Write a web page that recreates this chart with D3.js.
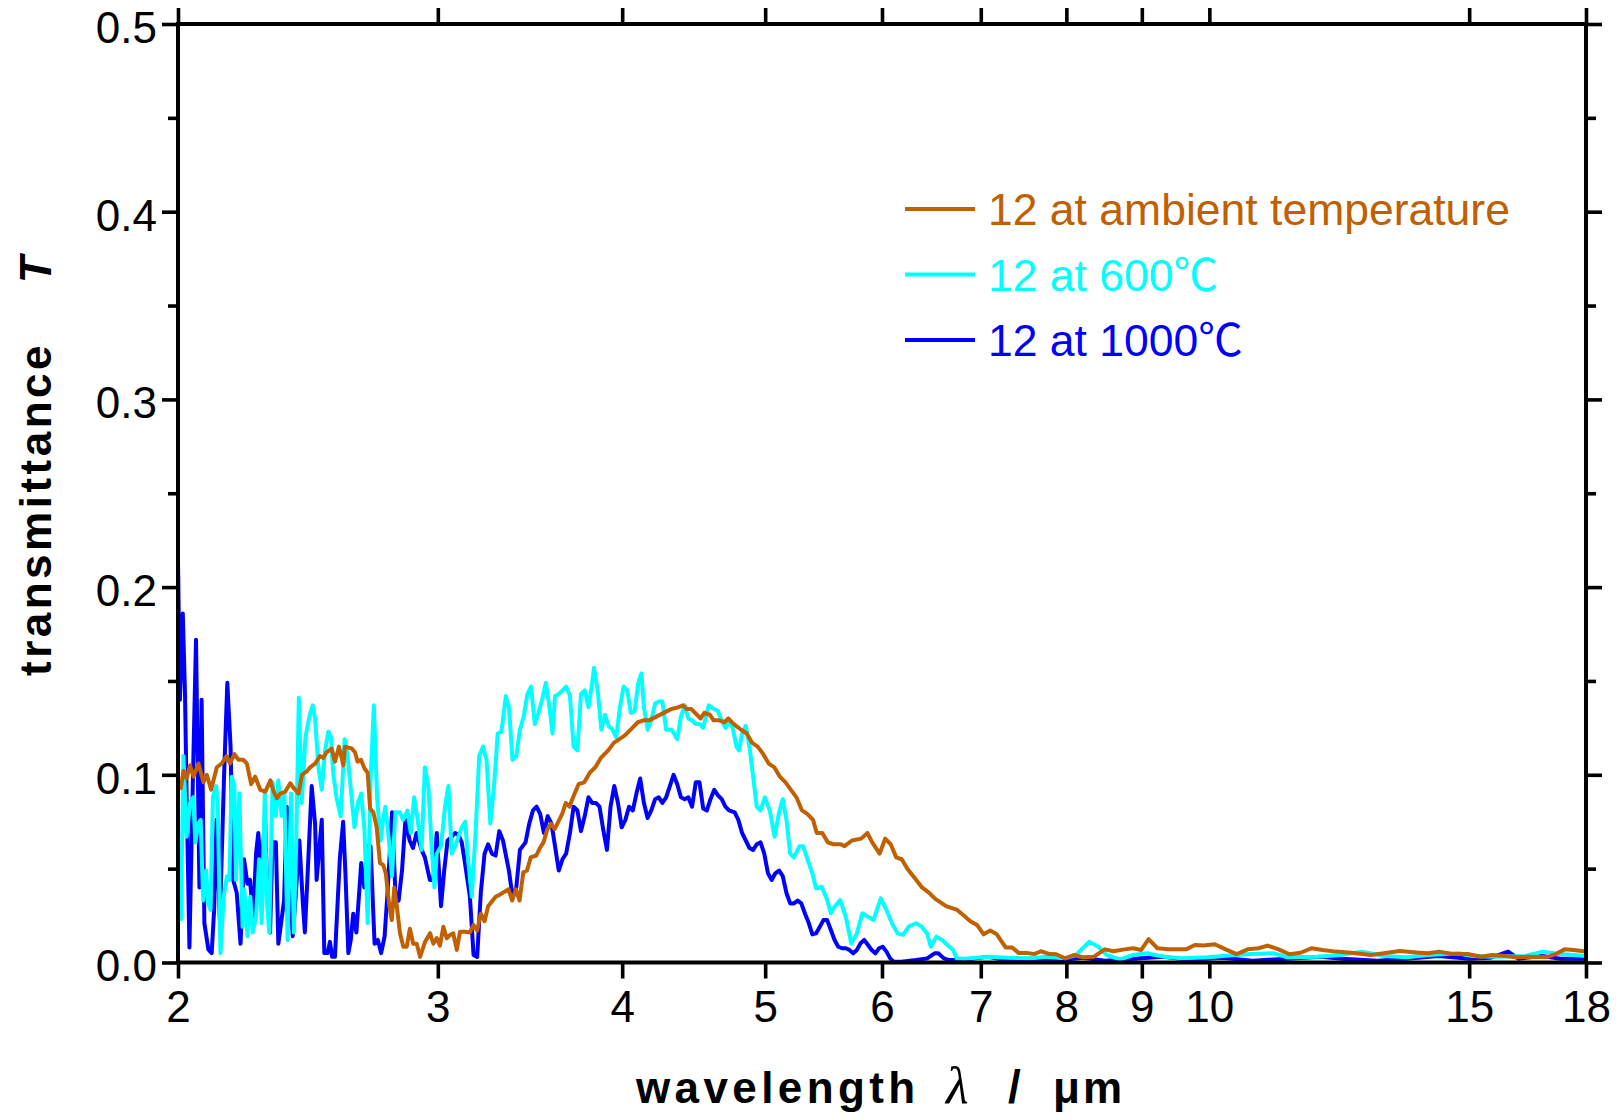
<!DOCTYPE html>
<html><head><meta charset="utf-8">
<script src="https://cdn.jsdelivr.net/npm/d3@7"></script>
<style>
html,body{margin:0;padding:0;background:#fff;}
svg{display:block;}
text{font-family:"Liberation Sans",Arial,Helvetica,"Noto Sans CJK SC",sans-serif;}
</style></head><body>
<svg id="chart" width="1619" height="1120"></svg>
<script>
const xTickValues=[2,3,4,5,6,7,8,9,10,15,18];
const yTickValues=[0,0.1,0.2,0.3,0.4,0.5];
const yMinorValues=[0.05,0.15,0.25,0.35,0.45];
const seriesNames=["12 at ambient temperature","12 at 600\u2103","12 at 1000\u2103"];
const seriesColors=["#c06000","#00ffff","#0000ff"];

// [wavelength (um), transmittance]
const ambient=[[2.003,0.093],[2.009,0.093],[2.017,0.102],[2.027,0.098],[2.038,0.105],[2.049,0.099],[2.065,0.106],[2.081,0.096],[2.092,0.100],[2.106,0.092],[2.125,0.104],[2.141,0.106],[2.158,0.110],[2.169,0.106],[2.184,0.111],[2.198,0.108],[2.215,0.108],[2.227,0.106],[2.242,0.095],[2.256,0.099],[2.274,0.092],[2.292,0.091],[2.310,0.097],[2.322,0.091],[2.334,0.0875],[2.346,0.090],[2.364,0.091],[2.383,0.0955],[2.395,0.093],[2.414,0.090],[2.427,0.100],[2.446,0.102],[2.458,0.104],[2.477,0.106],[2.496,0.110],[2.509,0.109],[2.522,0.112],[2.542,0.114],[2.555,0.107],[2.571,0.115],[2.589,0.105],[2.595,0.115],[2.623,0.114],[2.636,0.112],[2.647,0.107],[2.661,0.108],[2.675,0.1035],[2.689,0.101],[2.699,0.082],[2.713,0.080],[2.727,0.072],[2.741,0.053],[2.755,0.052],[2.766,0.0475],[2.780,0.0315],[2.792,0.0226],[2.803,0.040],[2.814,0.030],[2.828,0.0156],[2.843,0.0084],[2.858,0.0084],[2.872,0.018],[2.887,0.010],[2.903,0.010],[2.918,0.003],[2.941,0.011],[2.964,0.0156],[2.979,0.010],[2.995,0.013],[3.010,0.009],[3.026,0.019],[3.042,0.0129],[3.058,0.0147],[3.073,0.0156],[3.090,0.0067],[3.106,0.0164],[3.130,0.0164],[3.154,0.016],[3.172,0.020],[3.190,0.017],[3.208,0.026],[3.227,0.022],[3.245,0.030],[3.283,0.035],[3.302,0.036],[3.350,0.039],[3.369,0.033],[3.389,0.039],[3.408,0.033],[3.428,0.048],[3.448,0.049],[3.468,0.056],[3.498,0.057],[3.518,0.061],[3.538,0.064],[3.559,0.071],[3.579,0.074],[3.600,0.071],[3.621,0.075],[3.642,0.079],[3.663,0.085],[3.684,0.083],[3.705,0.088],[3.737,0.095],[3.770,0.096],[3.802,0.101],[3.836,0.104],[3.869,0.109],[3.914,0.113],[3.948,0.117],[3.983,0.119],[4.017,0.121],[4.064,0.125],[4.099,0.128],[4.135,0.129],[4.171,0.129],[4.219,0.131],[4.268,0.133],[4.317,0.135],[4.367,0.136],[4.398,0.137],[4.423,0.135],[4.456,0.135],[4.495,0.132],[4.521,0.130],[4.547,0.133],[4.587,0.132],[4.613,0.129],[4.653,0.129],[4.693,0.128],[4.720,0.130],[4.761,0.127],[4.816,0.124],[4.858,0.122],[4.900,0.117],[4.942,0.115],[4.985,0.111],[5.028,0.106],[5.072,0.104],[5.116,0.099],[5.161,0.096],[5.205,0.092],[5.250,0.088],[5.296,0.081],[5.342,0.079],[5.388,0.076],[5.419,0.069],[5.466,0.069],[5.514,0.064],[5.562,0.063],[5.626,0.063],[5.659,0.062],[5.725,0.065],[5.808,0.066],[5.865,0.069],[5.909,0.064],[5.978,0.058],[6.030,0.066],[6.082,0.063],[6.135,0.056],[6.188,0.055],[6.242,0.050],[6.314,0.045],[6.387,0.040],[6.461,0.037],[6.517,0.034],[6.574,0.032],[6.631,0.030],[6.747,0.028],[6.817,0.025],[6.887,0.022],[6.959,0.020],[7.031,0.015],[7.104,0.017],[7.177,0.015],[7.277,0.008],[7.352,0.008],[7.428,0.005],[7.531,0.005],[7.609,0.0045],[7.688,0.006],[7.794,0.0045],[7.875,0.0044],[7.984,0.0022],[8.094,0.004],[8.206,0.0028],[8.348,0.003],[8.493,0.007],[8.610,0.006],[8.759,0.007],[8.880,0.0076],[8.991,0.0067],[9.096,0.0124],[9.222,0.0076],[9.382,0.007],[9.644,0.007],[9.777,0.0093],[9.912,0.009],[10.084,0.0097],[10.258,0.007],[10.436,0.0045],[10.617,0.007],[10.801,0.0076],[10.950,0.009],[11.140,0.007],[11.333,0.0044],[11.529,0.0052],[11.729,0.0076],[11.932,0.0067],[12.180,0.0058],[12.477,0.0052],[12.868,0.004],[13.136,0.0049],[13.456,0.0061],[13.878,0.0052],[14.070,0.0049],[14.312,0.0058],[14.612,0.0045],[14.967,0.0045],[15.279,0.0031],[15.543,0.004],[15.867,0.0035],[16.142,0.0028],[16.478,0.0031],[16.937,0.0028],[17.171,0.0045],[17.408,0.007],[17.649,0.0067],[18.000,0.0058]];

const at600=[[2.003,0.060],[2.009,0.023],[2.017,0.110],[2.027,0.067],[2.038,0.085],[2.048,0.088],[2.055,0.064],[2.064,0.074],[2.072,0.076],[2.080,0.033],[2.090,0.049],[2.096,0.032],[2.104,0.028],[2.112,0.088],[2.123,0.094],[2.128,0.085],[2.137,0.005],[2.148,0.035],[2.159,0.046],[2.167,0.044],[2.175,0.099],[2.184,0.094],[2.189,0.044],[2.201,0.090],[2.212,0.019],[2.218,0.039],[2.229,0.014],[2.239,0.035],[2.247,0.016],[2.259,0.024],[2.270,0.055],[2.279,0.021],[2.290,0.090],[2.297,0.033],[2.306,0.016],[2.318,0.096],[2.330,0.078],[2.339,0.097],[2.351,0.078],[2.361,0.090],[2.373,0.012],[2.386,0.090],[2.396,0.016],[2.405,0.062],[2.415,0.141],[2.426,0.085],[2.440,0.120],[2.455,0.131],[2.468,0.137],[2.477,0.130],[2.490,0.104],[2.503,0.092],[2.516,0.113],[2.529,0.123],[2.539,0.120],[2.548,0.101],[2.561,0.088],[2.578,0.078],[2.594,0.119],[2.605,0.111],[2.618,0.094],[2.634,0.072],[2.648,0.085],[2.662,0.090],[2.675,0.072],[2.689,0.021],[2.701,0.097],[2.715,0.137],[2.729,0.087],[2.744,0.065],[2.754,0.076],[2.764,0.083],[2.778,0.067],[2.793,0.046],[2.808,0.080],[2.827,0.080],[2.842,0.076],[2.861,0.081],[2.876,0.069],[2.891,0.088],[2.907,0.076],[2.925,0.060],[2.940,0.104],[2.956,0.094],[2.971,0.062],[2.984,0.040],[2.995,0.058],[3.015,0.062],[3.034,0.083],[3.050,0.094],[3.066,0.058],[3.082,0.062],[3.098,0.067],[3.114,0.072],[3.131,0.075],[3.145,0.055],[3.163,0.035],[3.182,0.069],[3.200,0.110],[3.219,0.115],[3.237,0.108],[3.256,0.074],[3.275,0.094],[3.294,0.122],[3.313,0.123],[3.336,0.142],[3.352,0.136],[3.371,0.108],[3.391,0.110],[3.410,0.124],[3.430,0.131],[3.450,0.143],[3.470,0.147],[3.490,0.127],[3.510,0.133],[3.530,0.140],[3.551,0.149],[3.571,0.136],[3.588,0.122],[3.602,0.142],[3.623,0.143],[3.644,0.145],[3.665,0.147],[3.687,0.142],[3.708,0.115],[3.730,0.113],[3.751,0.143],[3.773,0.145],[3.795,0.136],[3.817,0.149],[3.828,0.157],[3.850,0.145],[3.872,0.124],[3.895,0.132],[3.917,0.126],[3.940,0.124],[3.963,0.120],[3.986,0.136],[4.009,0.147],[4.032,0.145],[4.055,0.133],[4.079,0.134],[4.102,0.149],[4.122,0.154],[4.138,0.136],[4.162,0.124],[4.186,0.129],[4.211,0.138],[4.235,0.139],[4.259,0.139],[4.284,0.124],[4.321,0.124],[4.359,0.119],[4.384,0.131],[4.410,0.137],[4.435,0.130],[4.461,0.129],[4.487,0.127],[4.513,0.127],[4.539,0.125],[4.578,0.137],[4.618,0.135],[4.645,0.134],[4.672,0.129],[4.699,0.125],[4.726,0.128],[4.753,0.125],[4.781,0.115],[4.800,0.113],[4.823,0.122],[4.851,0.126],[4.879,0.115],[4.907,0.099],[4.935,0.083],[4.964,0.081],[4.998,0.088],[5.036,0.081],[5.074,0.067],[5.110,0.080],[5.139,0.087],[5.169,0.076],[5.199,0.058],[5.229,0.056],[5.275,0.062],[5.305,0.062],[5.336,0.056],[5.382,0.0475],[5.413,0.0395],[5.461,0.0404],[5.508,0.0333],[5.540,0.0262],[5.572,0.0297],[5.621,0.0333],[5.670,0.0244],[5.719,0.0102],[5.769,0.0155],[5.819,0.0262],[5.870,0.0244],[5.921,0.0226],[5.989,0.0342],[6.042,0.028],[6.094,0.0209],[6.147,0.0155],[6.201,0.0147],[6.255,0.0191],[6.327,0.0209],[6.382,0.0191],[6.438,0.0155],[6.475,0.0084],[6.532,0.0138],[6.589,0.012],[6.646,0.0093],[6.704,0.0067],[6.742,0.0022],[6.82,0.002],[7.08,0.003],[7.30,0.0025],[7.58,0.0022],[7.74,0.0031],[7.98,0.0022],[8.12,0.004],[8.29,0.011],[8.41,0.0084],[8.52,0.004],[8.70,0.0017],[8.88,0.004],[9.07,0.0049],[9.19,0.004],[9.32,0.0031],[9.58,0.0022],[9.98,0.0028],[10.40,0.004],[10.69,0.0045],[11.06,0.0049],[11.29,0.0028],[11.85,0.0031],[12.26,0.004],[12.69,0.0058],[13.14,0.0035],[13.60,0.0028],[14.07,0.004],[14.76,0.0049],[15.07,0.0035],[15.60,0.0031],[16.37,0.0035],[16.82,0.0058],[17.29,0.0045],[18.00,0.0035]];

const at1000=[[2.000,0.214],[2.006,0.140],[2.015,0.186],[2.022,0.143],[2.027,0.090],[2.036,0.008],[2.046,0.090],[2.057,0.172],[2.068,0.040],[2.075,0.140],[2.084,0.021],[2.097,0.007],[2.108,0.005],[2.116,0.028],[2.124,0.076],[2.135,0.023],[2.149,0.099],[2.160,0.149],[2.171,0.115],[2.180,0.044],[2.192,0.037],[2.205,0.010],[2.217,0.055],[2.229,0.042],[2.238,0.044],[2.249,0.023],[2.259,0.058],[2.267,0.069],[2.275,0.051],[2.283,0.058],[2.291,0.078],[2.299,0.037],[2.309,0.016],[2.318,0.064],[2.330,0.064],[2.339,0.010],[2.351,0.023],[2.360,0.033],[2.370,0.083],[2.380,0.051],[2.392,0.014],[2.404,0.037],[2.417,0.065],[2.430,0.032],[2.438,0.016],[2.451,0.055],[2.464,0.094],[2.477,0.074],[2.483,0.044],[2.503,0.076],[2.513,0.005],[2.526,0.005],[2.535,0.011],[2.544,0.003],[2.555,0.003],[2.565,0.030],[2.575,0.056],[2.588,0.075],[2.597,0.048],[2.609,0.005],[2.619,0.012],[2.629,0.026],[2.642,0.016],[2.662,0.053],[2.675,0.040],[2.689,0.062],[2.701,0.062],[2.718,0.010],[2.732,0.012],[2.746,0.005],[2.761,0.014],[2.775,0.040],[2.793,0.080],[2.808,0.037],[2.822,0.033],[2.837,0.049],[2.852,0.076],[2.871,0.065],[2.886,0.061],[2.902,0.069],[2.925,0.060],[2.940,0.056],[2.963,0.044],[2.979,0.044],[2.995,0.069],[3.015,0.030],[3.030,0.049],[3.046,0.065],[3.066,0.067],[3.082,0.069],[3.098,0.068],[3.114,0.064],[3.127,0.055],[3.154,0.035],[3.172,0.004],[3.190,0.003],[3.208,0.037],[3.227,0.058],[3.245,0.063],[3.264,0.058],[3.283,0.057],[3.302,0.070],[3.321,0.065],[3.352,0.049],[3.371,0.035],[3.391,0.040],[3.410,0.060],[3.440,0.064],[3.460,0.074],[3.480,0.081],[3.500,0.083],[3.520,0.079],[3.540,0.069],[3.561,0.078],[3.582,0.074],[3.602,0.062],[3.623,0.049],[3.644,0.055],[3.665,0.058],[3.687,0.069],[3.708,0.083],[3.730,0.081],[3.751,0.070],[3.773,0.078],[3.795,0.088],[3.817,0.085],[3.839,0.085],[3.861,0.083],[3.883,0.071],[3.906,0.060],[3.928,0.083],[3.951,0.094],[3.974,0.085],[3.997,0.072],[4.020,0.076],[4.043,0.083],[4.067,0.081],[4.090,0.090],[4.114,0.098],[4.138,0.085],[4.162,0.077],[4.186,0.081],[4.211,0.087],[4.235,0.088],[4.259,0.085],[4.284,0.088],[4.309,0.094],[4.334,0.100],[4.359,0.095],[4.384,0.088],[4.410,0.087],[4.435,0.088],[4.461,0.083],[4.487,0.096],[4.513,0.096],[4.539,0.082],[4.565,0.081],[4.591,0.087],[4.618,0.092],[4.645,0.089],[4.672,0.087],[4.699,0.083],[4.726,0.081],[4.768,0.080],[4.795,0.076],[4.823,0.069],[4.851,0.065],[4.879,0.061],[4.907,0.060],[4.935,0.063],[4.964,0.064],[4.993,0.058],[5.022,0.0475],[5.051,0.044],[5.080,0.0475],[5.110,0.049],[5.139,0.046],[5.169,0.037],[5.199,0.0315],[5.229,0.0315],[5.260,0.033],[5.290,0.0315],[5.321,0.026],[5.352,0.021],[5.382,0.015],[5.413,0.0155],[5.445,0.019],[5.476,0.0226],[5.508,0.0226],[5.540,0.0173],[5.572,0.012],[5.604,0.0084],[5.637,0.0076],[5.670,0.0076],[5.702,0.0067],[5.736,0.0049],[5.769,0.0067],[5.802,0.0102],[5.836,0.012],[5.870,0.0093],[5.904,0.0067],[5.938,0.0049],[5.972,0.0076],[6.007,0.0084],[6.042,0.0058],[6.077,0.0022],[6.112,0.0004],[6.183,0.0004],[6.327,0.0013],[6.438,0.0022],[6.513,0.0049],[6.551,0.0049],[6.608,0.0022],[6.665,0.0013],[6.821,0.0013],[6.940,0.0022],[7.08,0.003],[7.3,0.001],[7.58,0.002],[7.9,0.001],[8.2,0.0025],[8.5,0.001],[8.9,0.002],[9.3,0.003],[9.7,0.0015],[10.2,0.0025],[10.7,0.001],[11.3,0.002],[11.9,0.003],[12.3,0.002],[13.0,0.001],[13.6,0.002],[14.3,0.0035],[15.0,0.002],[15.5,0.0025],[15.94,0.0058],[16.2,0.002],[16.8,0.0035],[17.3,0.002],[18.0,0.002]];

const seriesData=[ambient,at600,at1000];

const svg=d3.select("#chart");
svg.append("rect").attr("width",1619).attr("height",1120).attr("fill","#fff");
const plot={left:178,right:1586,top:24,bottom:962.5};
const x=d3.scaleLog().domain([2,18]).range([plot.left,plot.right]);
const y=d3.scaleLinear().domain([0,0.5]).range([plot.bottom,plot.top]);

svg.append("clipPath").attr("id","clip").append("rect")
  .attr("x",plot.left).attr("y",plot.top-2).attr("width",plot.right-plot.left).attr("height",plot.bottom-plot.top+2);

const line=d3.line().x(d=>x(d[0])).y(d=>y(d[1]));
const lines=svg.append("g").attr("clip-path","url(#clip)");
[2,1,0].forEach(i=>{
  lines.append("path").datum(seriesData[i])
    .attr("d",line).attr("fill","none").attr("stroke",seriesColors[i])
    .attr("stroke-width",4).attr("stroke-linejoin","round").attr("stroke-linecap","round");
});

function styleAxis(g){
  g.select(".domain").remove();
  g.selectAll(".tick line").attr("stroke","#000").attr("stroke-width",3.6);
  g.selectAll(".tick text").attr("fill","#000").style("font-size","44px")
    .style("font-family",'"Liberation Sans",Arial,sans-serif');
}
const gB=svg.append("g").attr("transform",`translate(0,${plot.bottom})`)
  .call(d3.axisBottom(x).tickValues(xTickValues).tickFormat(d3.format("d")).tickSize(16).tickPadding(12));
styleAxis(gB);
const gT=svg.append("g").attr("transform",`translate(0,${plot.top})`)
  .call(d3.axisTop(x).tickValues(xTickValues).tickFormat("").tickSize(16));
styleAxis(gT);
const gL=svg.append("g").attr("transform",`translate(${plot.left},0)`)
  .call(d3.axisLeft(y).tickValues(yTickValues).tickFormat(d3.format(".1f")).tickSize(16).tickPadding(5));
styleAxis(gL);
gL.selectAll(".tick text").attr("dy","0.42em");
const gLm=svg.append("g").attr("transform",`translate(${plot.left},0)`)
  .call(d3.axisLeft(y).tickValues(yMinorValues).tickFormat("").tickSize(10));
styleAxis(gLm);
const gR=svg.append("g").attr("transform",`translate(${plot.right},0)`)
  .call(d3.axisRight(y).tickValues(yTickValues).tickFormat("").tickSize(16));
styleAxis(gR);
const gRm=svg.append("g").attr("transform",`translate(${plot.right},0)`)
  .call(d3.axisRight(y).tickValues(yMinorValues).tickFormat("").tickSize(10));
styleAxis(gRm);

svg.append("rect").attr("x",plot.left).attr("y",plot.top)
  .attr("width",plot.right-plot.left).attr("height",plot.bottom-plot.top)
  .attr("fill","none").attr("stroke","#000").attr("stroke-width",4);

// legend
const leg=svg.append("g");
seriesNames.forEach((name,i)=>{
  const ly=209+i*65.5;
  leg.append("line").attr("x1",905).attr("x2",975).attr("y1",ly).attr("y2",ly)
    .attr("stroke",seriesColors[i]).attr("stroke-width",4);
  leg.append("text").attr("x",988).attr("y",ly+16).attr("fill",seriesColors[i])
    .style("font-size","44.5px").text(name);
});

// axis titles
const xt=svg.append("text").attr("y",1103).attr("fill","#000").style("font-size","44px");
xt.append("tspan").attr("x",636).style("font-weight","bold").style("letter-spacing","4.4px").text("wavelength");
xt.append("tspan").attr("x",946).style("font-style","italic").style("font-size","52px").style("font-family",'"Liberation Serif","DejaVu Serif",serif').text("\u03bb");
xt.append("tspan").attr("x",1008).style("font-weight","bold").style("font-size","46px").text("/");
xt.append("tspan").attr("x",1053).style("font-weight","bold").style("letter-spacing","3px").text("\u03bcm");

const yt=svg.append("text").attr("transform","translate(51,676) rotate(-90)")
  .attr("fill","#000").style("font-size","44px").style("font-weight","bold");
yt.append("tspan").attr("x",0).style("letter-spacing","3.5px").text("transmittance");
yt.append("tspan").attr("x",393).style("font-style","italic").text("T");
</script>
</body></html>
